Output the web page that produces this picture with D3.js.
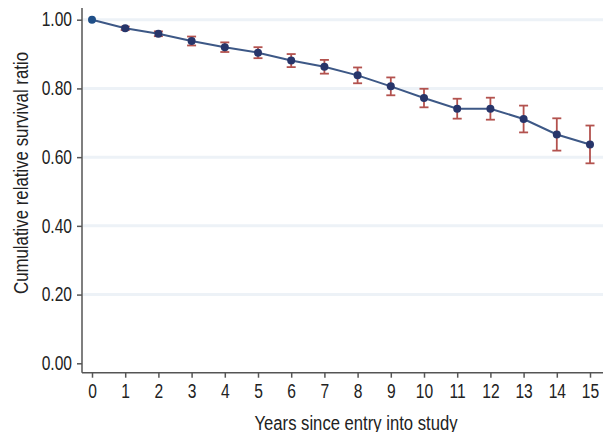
<!DOCTYPE html>
<html>
<head>
<meta charset="utf-8">
<script src="https://cdn.jsdelivr.net/npm/d3@7"></script>
<style>
  body { margin: 0; background: #fff; }
  text { font-family: "Liberation Sans", Arial, sans-serif; fill: #222; }
</style>
</head>
<body>
<svg id="chart" width="603" height="432"></svg>
<script>
// survival data
var years = [0, 1, 2, 3, 4, 5, 6, 7, 8, 9, 10, 11, 12, 13, 14, 15];
var ratio = [1.000, 0.975, 0.959, 0.938, 0.920, 0.904, 0.881, 0.863, 0.838, 0.806, 0.772, 0.741, 0.741, 0.711, 0.666, 0.637];
var lower = [1.000, 0.970, 0.952, 0.925, 0.906, 0.888, 0.862, 0.843, 0.815, 0.780, 0.745, 0.712, 0.709, 0.672, 0.619, 0.582];
var upper = [1.000, 0.980, 0.966, 0.951, 0.934, 0.920, 0.900, 0.883, 0.861, 0.832, 0.799, 0.770, 0.773, 0.750, 0.713, 0.692];
var yTicks = [0, 0.2, 0.4, 0.6, 0.8, 1.0];

var svg = d3.select("#chart");

var x = d3.scaleLinear().domain([0, 15]).range([92, 590]);
var y = d3.scaleLinear().domain([0, 1]).range([363.3, 19.7]);

// condensed look: squeeze text horizontally
var squeeze = function(sel, k){
  sel.each(function(){
    var w = this.getComputedTextLength();
    d3.select(this).attr("textLength", w * k).attr("lengthAdjust", "spacingAndGlyphs");
  });
}

// faint gridlines
svg.selectAll("line.grid").data(yTicks.slice(1)).enter().append("line")
  .attr("class", "grid")
  .attr("x1", 83).attr("x2", 603)
  .attr("y1", function(d){ return y(d); })
  .attr("y2", function(d){ return y(d); })
  .attr("stroke", "#edf2f7").attr("stroke-width", 3);

// y axis
var yAxis = d3.axisLeft(y).tickValues(yTicks).tickSize(5).tickPadding(5)
  .tickFormat(d3.format(".2f"));
var gy = svg.append("g").attr("transform", "translate(82,0)").call(yAxis);
gy.select(".domain").attr("d", "M0,8V372.7");

// x axis
var xAxis = d3.axisBottom(x).tickValues(years).tickSize(5).tickPadding(4);
var gx = svg.append("g").attr("transform", "translate(0,372.7)").call(xAxis);
gx.select(".domain").attr("d", "M82,0H603");
gx.selectAll(".tick text").attr("y", 25.8).attr("dy", 0);

svg.selectAll(".tick text").attr("font-size", 19.5).attr("fill", "#222").call(squeeze, 0.8);
svg.selectAll(".domain, .tick line").attr("stroke", "#555").attr("stroke-width", 1.5);

// axis titles
svg.append("text").attr("x", 356).attr("y", 429.5).attr("text-anchor", "middle")
  .attr("font-size", 19.5).attr("textLength", 203).attr("lengthAdjust", "spacingAndGlyphs")
  .text("Years since entry into study");
svg.append("text").attr("transform", "translate(28,173) rotate(-90)")
  .attr("text-anchor", "middle").attr("font-size", 19.5)
  .attr("textLength", 242).attr("lengthAdjust", "spacingAndGlyphs")
  .text("Cumulative relative survival ratio");

// error bars
var bars = svg.selectAll("g.err").data(years.slice(1)).enter().append("g")
  .attr("class", "err").attr("stroke", "#b3524e").attr("stroke-width", 1.8);
bars.append("line")
  .attr("x1", function(d){ return x(d); }).attr("x2", function(d){ return x(d); })
  .attr("y1", function(d){ return y(lower[d]); }).attr("y2", function(d){ return y(upper[d]); });
bars.append("line")
  .attr("x1", function(d){ return x(d) - 4.5; }).attr("x2", function(d){ return x(d) + 4.5; })
  .attr("y1", function(d){ return y(lower[d]); }).attr("y2", function(d){ return y(lower[d]); });
bars.append("line")
  .attr("x1", function(d){ return x(d) - 4.5; }).attr("x2", function(d){ return x(d) + 4.5; })
  .attr("y1", function(d){ return y(upper[d]); }).attr("y2", function(d){ return y(upper[d]); });

// line
var line = d3.line().x(function(d, i){ return x(years[i]); }).y(function(d){ return y(d); });
svg.append("path").datum(ratio).attr("d", line)
  .attr("fill", "none").attr("stroke", "#3d5886").attr("stroke-width", 2);

// points
svg.selectAll("circle").data(ratio).enter().append("circle")
  .attr("cx", function(d, i){ return x(years[i]); })
  .attr("cy", function(d){ return y(d); })
  .attr("r", 4)
  .attr("fill", function(d, i){ return i == 0 ? "#1f4f88" : "#27356a"; });
</script>
</body>
</html>
